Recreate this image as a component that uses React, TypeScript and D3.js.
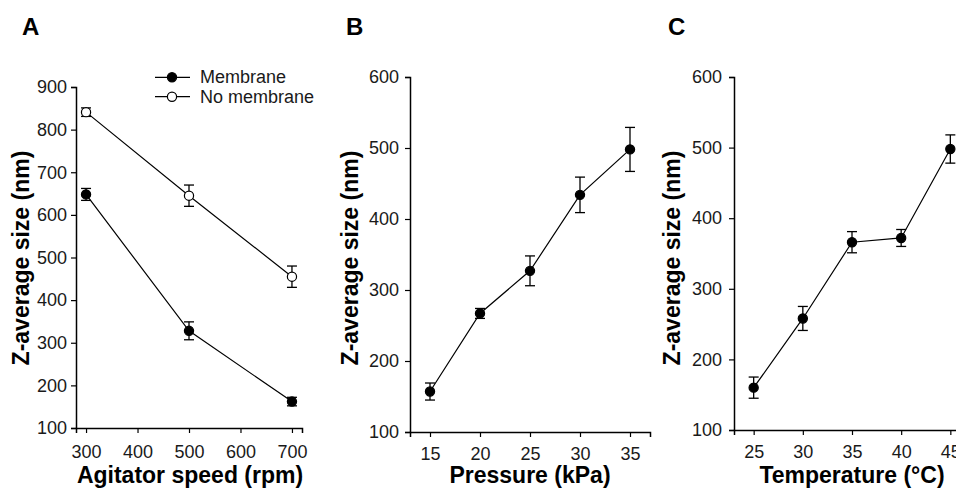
import { useEffect, useRef } from "react";
import { select, scaleLinear, axisBottom, axisLeft, line } from "d3";

const WIDTH = 956;
const HEIGHT = 489;
const FONT = "'Liberation Sans', Arial, Helvetica, sans-serif";

// Panel A – agitator speed
const speedRpm = [300, 500, 700];
const membraneSize = [648, 328, 162];
const membraneErr = [14, 21, 10];
const noMembraneSize = [841, 645, 455];
const noMembraneErr = [10, 25, 25];
const speedTicks = [300, 400, 500, 600, 700];
const sizeTicksA = [100, 200, 300, 400, 500, 600, 700, 800, 900];

// Panel B – pressure
const pressureKpa = [15, 20, 25, 30, 35];
const pressureSize = [157, 267, 327, 434, 498];
const pressureErr = [12, 7, 21, 25, 31];

// Panel C – temperature
const temperatureC = [25, 30, 35, 40, 45];
const temperatureSize = [160, 258, 366, 372, 498];
const temperatureErr = [15, 17, 15, 12, 20];

const sizeTicksBC = [100, 200, 300, 400, 500, 600];
const legendLabels = ["Membrane", "No membrane"];

interface Series {
  x: number[];
  y: number[];
  err: number[];
  filled: boolean;
}

interface PanelSpec {
  letter: string;
  letterX: number;
  left: number;
  right: number;
  top: number;
  bottom: number;
  xDomain: [number, number];
  yDomain: [number, number];
  xTicks: number[];
  yTicks: number[];
  xPad: number;
  yPad: number;
  xTitle: string;
  xTitleX: number;
  yTitleX: number;
  series: Series[];
  legend?: boolean;
}

const panels: PanelSpec[] = [
  {
    letter: "A",
    letterX: 22,
    left: 76,
    right: 302,
    top: 87,
    bottom: 428,
    xDomain: [280.5, 719.5],
    yDomain: [100, 900],
    xTicks: speedTicks,
    yTicks: sizeTicksA,
    xPad: 12,
    yPad: 4,
    xTitle: "Agitator speed (rpm)",
    xTitleX: 190,
    yTitleX: 29,
    series: [
      { x: speedRpm, y: membraneSize, err: membraneErr, filled: true },
      { x: speedRpm, y: noMembraneSize, err: noMembraneErr, filled: false },
    ],
    legend: true,
  },
  {
    letter: "B",
    letterX: 346,
    left: 410,
    right: 650,
    top: 77,
    bottom: 432,
    xDomain: [13, 37],
    yDomain: [100, 600],
    xTicks: pressureKpa,
    yTicks: sizeTicksBC,
    xPad: 10,
    yPad: 6,
    xTitle: "Pressure (kPa)",
    xTitleX: 530,
    yTitleX: 358,
    series: [{ x: pressureKpa, y: pressureSize, err: pressureErr, filled: true }],
  },
  {
    letter: "C",
    letterX: 668,
    left: 734,
    right: 970,
    top: 77,
    bottom: 430,
    xDomain: [23, 47],
    yDomain: [100, 600],
    xTicks: temperatureC,
    yTicks: sizeTicksBC,
    xPad: 10,
    yPad: 7,
    xTitle: "Temperature (°C)",
    xTitleX: 852,
    yTitleX: 680,
    series: [{ x: temperatureC, y: temperatureSize, err: temperatureErr, filled: true }],
  },
];

export default function App() {
  const svgRef = useRef<SVGSVGElement>(null);

  useEffect(() => {
    const svg = select(svgRef.current);
    svg.selectAll("*").remove();
    svg.attr("width", WIDTH).attr("height", HEIGHT);

    svg.append("rect").attr("width", WIDTH).attr("height", HEIGHT).attr("fill", "#fff");

    panels.forEach((p) => {
      const g = svg.append("g");
      const x = scaleLinear().domain(p.xDomain).range([p.left, p.right]);
      const y = scaleLinear().domain(p.yDomain).range([p.bottom, p.top]);

      // panel letter
      g.append("text")
        .attr("x", p.letterX)
        .attr("y", 35)
        .attr("font-family", FONT)
        .attr("font-weight", 700)
        .attr("font-size", "24px")
        .text(p.letter);

      // axes
      const xa = g
        .append("g")
        .attr("transform", `translate(0,${p.bottom})`)
        .call(axisBottom(x).tickValues(p.xTicks).tickSizeOuter(0).tickSize(5).tickPadding(p.xPad));
      const ya = g
        .append("g")
        .attr("transform", `translate(${p.left},0)`)
        .call(axisLeft(y).tickValues(p.yTicks).tickSizeOuter(0).tickSize(5).tickPadding(p.yPad));
      [xa, ya].forEach((a) => {
        a.select(".domain").attr("stroke", "#000").attr("stroke-width", 1.5);
        a.selectAll(".tick line").attr("stroke", "#000").attr("stroke-width", 1.2);
        a.selectAll("text")
          .attr("font-family", FONT)
          .attr("font-size", "18px")
          .attr("fill", "#1a1a1a");
      });

      // axis titles
      g.append("text")
        .attr("x", p.xTitleX)
        .attr("y", 483)
        .attr("text-anchor", "middle")
        .attr("font-family", FONT)
        .attr("font-weight", 700)
        .attr("font-size", "23px")
        .text(p.xTitle);
      g.append("text")
        .attr("transform", `translate(${p.yTitleX},258) rotate(-90)`)
        .attr("text-anchor", "middle")
        .attr("font-family", FONT)
        .attr("font-weight", 700)
        .attr("font-size", "23px")
        .text("Z-average size (nm)");

      // series
      p.series.forEach((s) => {
        const pts = s.x.map((xv, i) => [x(xv), y(s.y[i])] as [number, number]);
        g.append("path")
          .attr("d", line()(pts))
          .attr("fill", "none")
          .attr("stroke", "#000")
          .attr("stroke-width", 1.2);

        s.x.forEach((xv, i) => {
          const cx = x(xv);
          const hi = y(s.y[i] + s.err[i]);
          const lo = y(s.y[i] - s.err[i]);
          g.append("line")
            .attr("x1", cx).attr("x2", cx).attr("y1", hi).attr("y2", lo)
            .attr("stroke", "#000").attr("stroke-width", 1.3);
          [hi, lo].forEach((yy) => {
            g.append("line")
              .attr("x1", cx - 5).attr("x2", cx + 5).attr("y1", yy).attr("y2", yy)
              .attr("stroke", "#000").attr("stroke-width", 1.3);
          });
          g.append("circle")
            .attr("cx", cx)
            .attr("cy", y(s.y[i]))
            .attr("r", 4.6)
            .attr("fill", s.filled ? "#000" : "#fff")
            .attr("stroke", "#000")
            .attr("stroke-width", 1.2);
        });
      });

      // legend
      if (p.legend) {
        legendLabels.forEach((lab, i) => {
          const ly = 77.3 + i * 19.4;
          g.append("line")
            .attr("x1", 155).attr("x2", 190).attr("y1", ly).attr("y2", ly)
            .attr("stroke", "#000").attr("stroke-width", 1.2);
          g.append("circle")
            .attr("cx", 172).attr("cy", ly).attr("r", 4.6)
            .attr("fill", i === 0 ? "#000" : "#fff")
            .attr("stroke", "#000").attr("stroke-width", 1.2);
          g.append("text")
            .attr("x", 200).attr("y", ly + 6)
            .attr("font-family", FONT)
            .attr("font-size", "18px")
            .attr("fill", "#1a1a1a")
            .text(lab);
        });
      }
    });
  }, []);

  return (
    <svg ref={svgRef} style={{ position: "absolute", left: 0, top: 0, display: "block" }} />
  );
}
